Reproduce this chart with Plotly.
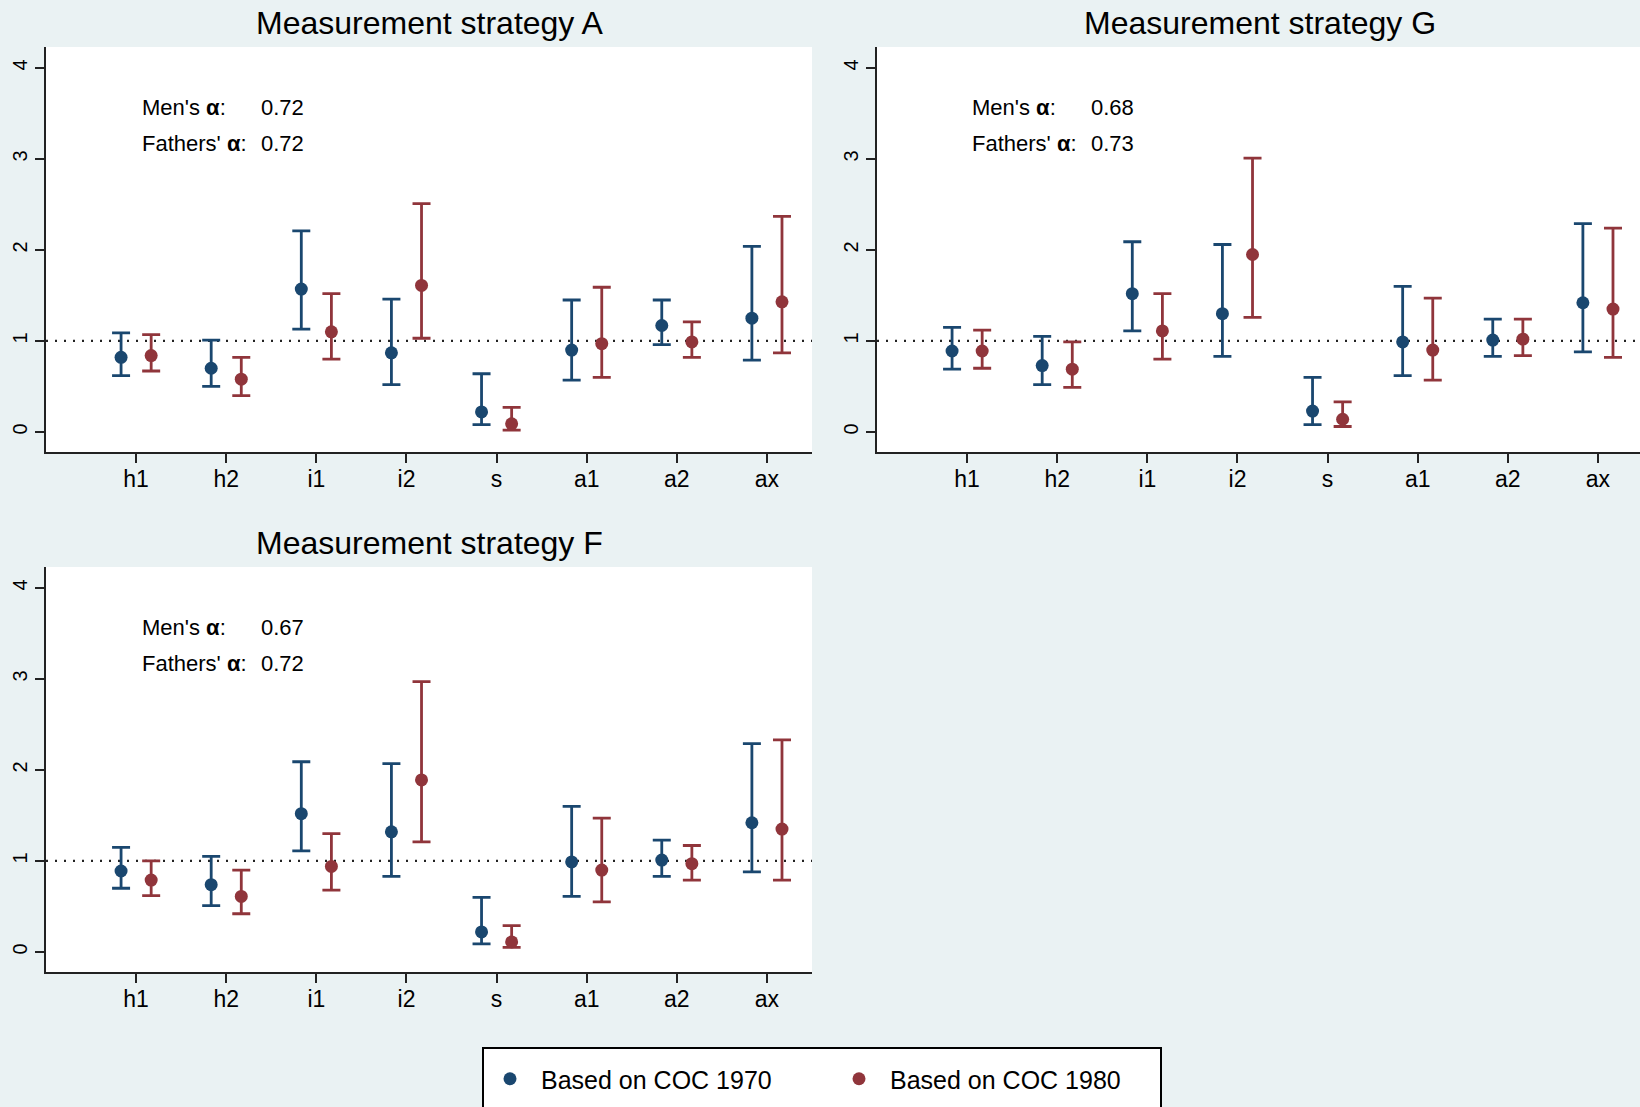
import plotly.graph_objects as go

# ---------------- data ----------------
categories = ["h1", "h2", "i1", "i2", "s", "a1", "a2", "ax"]
series_names = ["Based on COC 1970", "Based on COC 1980"]
panel_titles = ["Measurement strategy A", "Measurement strategy G", "Measurement strategy F"]

# Strategy A
a_1970_est = [0.82, 0.70, 1.57, 0.87, 0.22, 0.90, 1.17, 1.25]
a_1970_lo = [0.62, 0.50, 1.13, 0.52, 0.08, 0.57, 0.96, 0.79]
a_1970_hi = [1.09, 1.01, 2.21, 1.46, 0.64, 1.45, 1.45, 2.04]
a_1980_est = [0.84, 0.58, 1.10, 1.61, 0.09, 0.97, 0.99, 1.43]
a_1980_lo = [0.67, 0.40, 0.80, 1.03, 0.02, 0.60, 0.82, 0.87]
a_1980_hi = [1.07, 0.82, 1.52, 2.51, 0.27, 1.59, 1.21, 2.37]

# Strategy G
g_1970_est = [0.89, 0.73, 1.52, 1.30, 0.23, 0.99, 1.01, 1.42]
g_1970_lo = [0.69, 0.52, 1.11, 0.83, 0.08, 0.62, 0.83, 0.88]
g_1970_hi = [1.15, 1.05, 2.09, 2.06, 0.60, 1.60, 1.24, 2.29]
g_1980_est = [0.89, 0.69, 1.11, 1.95, 0.14, 0.90, 1.02, 1.35]
g_1980_lo = [0.70, 0.49, 0.80, 1.26, 0.06, 0.57, 0.84, 0.82]
g_1980_hi = [1.12, 0.99, 1.52, 3.01, 0.33, 1.47, 1.24, 2.24]

# Strategy F
f_1970_est = [0.89, 0.74, 1.52, 1.32, 0.22, 0.99, 1.01, 1.42]
f_1970_lo = [0.70, 0.51, 1.11, 0.83, 0.09, 0.61, 0.83, 0.88]
f_1970_hi = [1.15, 1.05, 2.09, 2.07, 0.60, 1.60, 1.23, 2.29]
f_1980_est = [0.79, 0.61, 0.94, 1.89, 0.11, 0.90, 0.97, 1.35]
f_1980_lo = [0.62, 0.42, 0.68, 1.21, 0.05, 0.55, 0.79, 0.79]
f_1980_hi = [1.00, 0.90, 1.30, 2.97, 0.29, 1.47, 1.17, 2.33]

mens_alpha = ["0.72", "0.68", "0.67"]
fathers_alpha = ["0.72", "0.73", "0.72"]

y_ticks = [0, 1, 2, 3, 4]
ref_value = 1

# ---------------- styling ----------------
W, H = 1640, 1107
BG = "#eaf2f3"
BLUE = "#1a476f"
RED = "#90353b"
AX = "#222222"
FONT = "Liberation Sans, Arial, sans-serif"
colors = [BLUE, RED]
offsets = [-0.167, 0.167]

panels = [
    dict(title=panel_titles[0], data=[(a_1970_est, a_1970_lo, a_1970_hi), (a_1980_est, a_1980_lo, a_1980_hi)],
         left=46, right=812, top=47, bottom=452, xr=8.5, tx=1.044, vx=2.368),
    dict(title=panel_titles[1], data=[(g_1970_est, g_1970_lo, g_1970_hi), (g_1980_est, g_1980_lo, g_1980_hi)],
         left=877, right=1640, top=47, bottom=452, xr=None, tx=1.03, vx=2.35),
    dict(title=panel_titles[2], data=[(f_1970_est, f_1970_lo, f_1970_hi), (f_1980_est, f_1980_lo, f_1980_hi)],
         left=46, right=812, top=567, bottom=972, xr=8.5, tx=1.044, vx=2.368),
]

px_per_unit = (812 - 46) / 8.5
yr = [-0.22, 4.23]

fig = go.Figure()
layout = dict(
    width=W, height=H,
    margin=dict(l=0, r=0, t=0, b=0),
    paper_bgcolor=BG, plot_bgcolor="white",
    font=dict(family=FONT, color="black"),
    showlegend=True,
)
annotations = []
shapes = []

for p, panel in enumerate(panels):
    sfx = "" if p == 0 else str(p + 1)
    xr_end = panel["xr"] if panel["xr"] else (panel["right"] - panel["left"]) / px_per_unit
    for s in range(2):
        est, lo, hi = panel["data"][s]
        fig.add_trace(go.Scatter(
            x=[i + 1 + offsets[s] for i in range(len(categories))],
            y=est,
            mode="markers",
            name=series_names[s],
            legendgroup=series_names[s],
            showlegend=(p == 0),
            marker=dict(color=colors[s], size=13),
            error_y=dict(type="data", symmetric=False,
                         array=[h - e for h, e in zip(hi, est)],
                         arrayminus=[e - l for e, l in zip(est, lo)],
                         color=colors[s], thickness=2.8, width=9),
            xaxis="x" + sfx, yaxis="y" + sfx,
            hoverinfo="skip",
        ))
    layout["xaxis" + sfx] = dict(
        domain=[panel["left"] / W, panel["right"] / W],
        range=[0, xr_end], anchor="y" + sfx,
        tickvals=list(range(1, len(categories) + 1)), ticktext=categories,
        ticks="outside", ticklen=9, tickwidth=2, tickcolor=AX,
        showline=True, linecolor=AX, linewidth=2,
        showgrid=False, zeroline=False,
        ticklabelstandoff=-4,
        tickfont=dict(size=23, color="black", family=FONT),
    )
    layout["yaxis" + sfx] = dict(
        domain=[1 - panel["bottom"] / H, 1 - panel["top"] / H],
        range=yr, anchor="x" + sfx,
        tickvals=y_ticks, tickangle=-90,
        ticks="outside", ticklen=9, tickwidth=2, tickcolor=AX,
        showline=True, linecolor=AX, linewidth=2,
        showgrid=False, zeroline=False,
        tickfont=dict(size=20, color="black", family=FONT),
    )
    shapes.append(dict(type="line", xref="x" + sfx + " domain", yref="y" + sfx,
                       x0=0, x1=1, y0=ref_value, y1=ref_value, layer="below",
                       line=dict(color=AX, width=2.2, dash="2px,7px")))
    annotations.append(dict(
        text=panel["title"], xref="paper", yref="paper",
        x=(panel["left"] + (panel["left"] + 766)) / 2 / W, y=1 - (panel["top"] - 24) / H,
        xanchor="center", yanchor="middle", showarrow=False,
        font=dict(size=32, color="black", family=FONT)))
    xref = "x" + sfx
    yref = "y" + sfx
    for label, val, yy in [("Men's <b>α</b>:", mens_alpha[p], 3.56), ("Fathers' <b>α</b>:", fathers_alpha[p], 3.165)]:
        annotations.append(dict(text=label, xref=xref, yref=yref, x=panel["tx"], y=yy,
                                xanchor="left", yanchor="middle", showarrow=False,
                                font=dict(size=22, color="black", family=FONT)))
        annotations.append(dict(text=val, xref=xref, yref=yref, x=panel["vx"], y=yy,
                                xanchor="left", yanchor="middle", showarrow=False,
                                font=dict(size=22, color="black", family=FONT)))

# legend box
shapes.append(dict(type="rect", xref="paper", yref="paper",
                   x0=483 / W, x1=1161 / W, y0=1 - 1120 / H, y1=1 - 1048 / H,
                   line=dict(color="black", width=2), fillcolor="white", layer="below"))

layout["shapes"] = shapes
layout["annotations"] = annotations
layout["legend"] = dict(
    orientation="h", x=479 / W, y=1 - 1079 / H, xanchor="left", yanchor="middle",
    bgcolor="rgba(0,0,0,0)", borderwidth=0,
    font=dict(size=25, color="black", family=FONT),
    entrywidth=282, entrywidthmode="pixels", itemwidth=52,
)
fig.update_layout(**layout)
fig.write_html("out.html", config={"displayModeBar": False},
               post_script="document.body.style.margin='0';document.body.style.overflow='hidden';")
